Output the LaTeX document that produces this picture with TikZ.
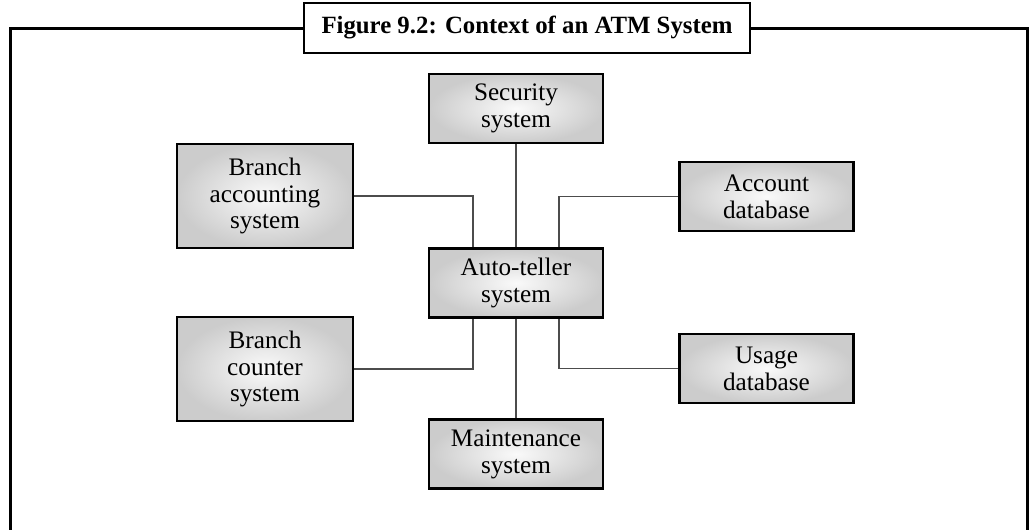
\documentclass[tikz,border=0pt]{standalone}
\usepackage{fontspec}
\setmainfont{Liberation Serif}
\usepackage{tikz}
\usetikzlibrary{positioning, calc}

\begin{document}
\begin{tikzpicture}[x=0.5pt, y=-0.5pt,
    sysbox/.style={rectangle, draw=black, line width=1.2pt, inner color=black!2, outer color=black!20, minimum width=87pt, minimum height=34.5pt, align=center, font=\fontsize{12.6}{13.4}\selectfont},
    tallbox/.style={sysbox, minimum width=88pt, minimum height=52pt},
    titlebox/.style={rectangle, draw=black, line width=1.1pt, fill=white, minimum width=223pt, minimum height=25pt, font=\fontsize{12.4}{14}\selectfont\bfseries},
    frame/.style={line width=1.5pt},
    link/.style={draw=black!70, line width=0.6pt}
]
\useasboundingbox (0,0) rectangle (1031,530);
\node (title) at (527,28) [titlebox] {Figure 9.2: Context of an ATM System};
\coordinate (fl) at (10,530);
\coordinate (fr) at (1027,530);
\draw[frame] (title.west) -| (fl);
\draw[frame] (title.east) -| (fr);
\node (sec) at (516,108.5) [sysbox] {Security\\system};
\node (atm) at (516,283) [sysbox] {Auto-teller\\system};
\node (mnt) at (516,454) [sysbox] {Maintenance\\system};
\node (acc) at (265,196) [tallbox] {Branch\\accounting\\system};
\node (cnt) at (265,369) [tallbox] {Branch\\counter\\system};
\node (adb) at (766.5,196.5) [sysbox] {Account\\database};
\node (udb) at (766.5,368.5) [sysbox] {Usage\\database};
\draw[link] (sec) -- (atm);
\draw[link] (atm) -- (mnt);
\draw[link] (acc.east) -| ([xshift=-21.5pt]atm.north);
\draw[link] (adb.west) -| ([xshift=21.5pt]atm.north);
\draw[link] (cnt.east) -| ([xshift=-21.5pt]atm.south);
\draw[link] (udb.west) -| ([xshift=21.5pt]atm.south);
\end{tikzpicture}
\end{document}
